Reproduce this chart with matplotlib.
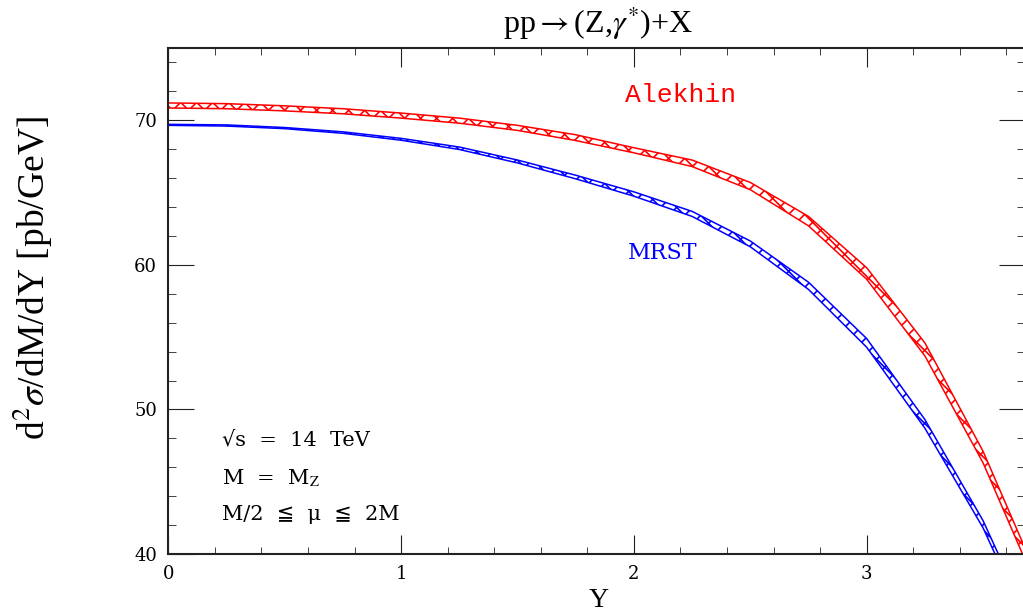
import numpy as np
import matplotlib.pyplot as plt
from matplotlib.ticker import MultipleLocator
from matplotlib.patches import Polygon
from matplotlib.collections import LineCollection

plt.rcParams['mathtext.fontset'] = 'stix'
plt.rcParams['font.family'] = ['DejaVu Serif', 'DejaVu Sans']

# rapidity grid and cross-section bands (pb/GeV)
rap = [0.0, 0.25, 0.5, 0.75, 1.0, 1.25, 1.5, 1.75, 2.0, 2.25, 2.5, 2.75, 3.0, 3.25, 3.5, 3.75]
alekhin_hi = [71.2, 71.15, 71.0, 70.8, 70.5, 70.15, 69.65, 69.0, 68.1, 67.25, 65.7, 63.35, 59.8, 54.6, 47.1, 37.8]
alekhin_lo = [70.85, 70.8, 70.65, 70.45, 70.15, 69.8, 69.3, 68.6, 67.75, 66.8, 65.2, 62.7, 59.0, 53.7, 46.3, 37.0]
mrst_hi = [69.72, 69.68, 69.5, 69.2, 68.75, 68.15, 67.25, 66.2, 65.05, 63.7, 61.65, 58.8, 54.9, 49.3, 42.3, 33.5]
mrst_lo = [69.65, 69.6, 69.42, 69.1, 68.62, 67.98, 67.05, 65.95, 64.75, 63.35, 61.25, 58.3, 54.3, 48.7, 41.8, 33.0]


def band(ax, x, lo, hi, color, sp=16, phase=0):
    ax.plot(x, hi, color=color, lw=1.1)
    ax.plot(x, lo, color=color, lw=1.1)
    poly = np.column_stack([np.r_[x, x[::-1]], np.r_[hi, lo[::-1]]])
    patch = Polygon(poly, closed=True, facecolor='none', edgecolor='none')
    ax.add_patch(patch)
    # cross hatching at +-45 degrees in screen space, clipped to the band
    x0, y0, x1, y1 = ax.bbox.extents
    inv = ax.transData.inverted()
    segs = []
    for c in np.arange(y0 - x1, y1 - x0, sp) + phase:
        segs.append(inv.transform([[x0, x0 + c], [x1, x1 + c]]))
    for c in np.arange(y0 + x0, y1 + x1, sp) + phase:
        segs.append(inv.transform([[x0, c - x0], [x1, c - x1]]))
    lc = LineCollection(segs, colors=color, linewidths=1.2)
    ax.add_collection(lc)
    lc.set_clip_path(patch)


fig = plt.figure(figsize=(10.23, 6.13), dpi=100)
ax = fig.add_axes([168.3 / 1023, 59 / 613, (1025 - 168.3) / 1023, 506 / 613])
ax.set_xlim(0, (1025 - 168.3) / 232.8)
ax.set_ylim(40, 75)

band(ax, rap, alekhin_lo, alekhin_hi, 'red')
band(ax, rap, mrst_lo, mrst_hi, 'blue', phase=7)

ax.xaxis.set_major_locator(MultipleLocator(1))
ax.xaxis.set_minor_locator(MultipleLocator(0.2))
ax.yaxis.set_major_locator(MultipleLocator(10))
ax.yaxis.set_minor_locator(MultipleLocator(2))
ax.tick_params(which='both', direction='in', top=True, right=True, labelsize=13, color='#222222')
ax.tick_params(axis='x', which='major', length=14, pad=8)
ax.tick_params(axis='x', which='minor', length=5)
ax.tick_params(axis='y', which='major', length=19, pad=8)
ax.tick_params(axis='y', which='minor', length=6)
for sp in ax.spines.values():
    sp.set_linewidth(1.5)
    sp.set_color('#222222')

ax.text(0.598, 0.907, 'Alekhin', color='red', family='Liberation Mono', fontsize=19,
        ha='center', va='center', transform=ax.transAxes)
ax.text(0.577, 0.595, 'MRST', color='blue', family='DejaVu Serif', fontsize=16,
        ha='center', va='center', transform=ax.transAxes)

ax.text(0.063, 0.225, '√s  =  14  TeV', fontsize=15, ha='left', va='center',
        transform=ax.transAxes)
ax.text(0.063, 0.15, r'M  =  M$_{\rm Z}$', fontsize=15, ha='left', va='center',
        transform=ax.transAxes)
ax.text(0.063, 0.079, 'M/2  ≦  μ  ≦  2M', fontsize=15, ha='left', va='center',
        transform=ax.transAxes)

fig.text(0.585, 0.962, r'pp$\rightarrow$(Z,$\gamma^{*}$)+X', fontsize=23, ha='center', va='center',
         family='Liberation Serif')
fig.text(0.585, 0.021, 'Y', fontsize=20, ha='center', va='center', family='Liberation Serif')
fig.text(0.032, 0.546, r'd$^{2}\sigma$/dM/dY [pb/GeV]', fontsize=27, rotation=90,
         ha='center', va='center', family='Liberation Serif')

fig.savefig('out.png', dpi=100)
